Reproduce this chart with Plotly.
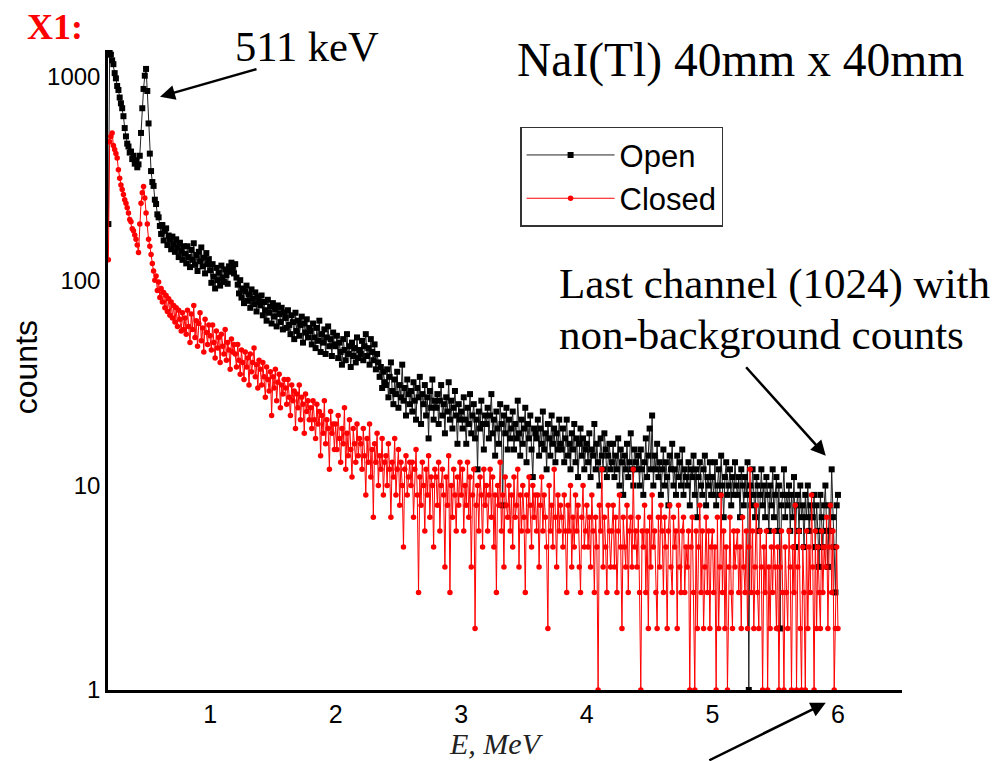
import plotly.graph_objs as go

# energy bins (MeV), 0.01 MeV wide, from 0.19 to 6.00
energy = [round(0.19 + 0.01 * i, 2) for i in range(582)]

open_low = [190,
            1320, 1280, 1200, 1150, 1040, 980, 900, 860, 790, 740,
            700, 640, 560, 510, 470, 455, 425, 430, 395, 410,
            375, 390, 360, 372, 410, 530, 700, 870, 1010, 1090,
            850, 590, 420, 345, 305, 292, 250, 238, 212, 205,
            186, 170, 188, 158, 176, 181, 150, 167, 160, 143,
            165, 151, 139, 160, 146, 131, 154, 140, 127, 148]

open_high = [
    136, 122, 148, 131, 117, 142, 127, 153, 120, 134, 112, 139, 125, 146, 118, 130, 109, 137, 121, 128,
    113, 98, 121, 105, 92, 116, 101, 110, 95, 119, 104, 99, 114, 107, 97, 118, 111, 123, 116, 109,
    121, 104, 96, 87, 101, 83, 92, 78, 89, 95, 80, 86, 74, 91, 82, 77, 88, 71, 84, 79,
    76, 85, 68, 79, 72, 64, 81, 70, 75, 62, 78, 67, 73, 60, 76, 69, 63, 74, 58, 70,
    66, 59, 72, 61, 55, 68, 63, 52, 70, 57, 64, 54, 61, 67, 50, 62, 56, 65, 53, 59,
    57, 49, 62, 53, 47, 59, 51, 64, 45, 55, 50, 58, 44, 53, 60, 48, 52, 43, 56, 49,
    48, 54, 42, 50, 45, 39, 52, 46, 41, 55, 44, 48, 38, 50, 43, 47, 40, 53, 42, 46,
    44, 51, 41, 48, 55, 43, 47, 39, 52, 45, 41, 49, 37, 44, 40, 34, 38, 30, 36, 32,
    31, 37, 27, 34, 40, 29, 25, 33, 28, 36, 24, 31, 27, 39, 26, 30, 22, 33, 28, 25,
    29, 23, 32, 26, 21, 30, 27, 34, 20, 28, 25, 31, 22, 27, 17, 29, 24, 33, 21, 26,
    24, 28, 20, 26, 31, 22, 25, 18, 27, 23, 32, 21, 26, 19, 24, 29, 22, 16, 25, 21,
    23, 19, 27, 21, 16, 24, 20, 28, 18, 22, 25, 17, 21, 12, 23, 19, 26, 20, 15, 22,
    20, 24, 17, 22, 28, 18, 21, 14, 23, 19, 16, 25, 20, 8, 22, 18, 24, 15, 21, 17,
    19, 23, 15, 20, 17, 26, 18, 14, 21, 16, 19, 24, 13, 20, 17, 22, 15, 11, 19, 18,
    17, 21, 14, 19, 16, 23, 15, 18, 12, 20, 17, 14, 22, 16, 19, 13, 18, 15, 21, 16,
    15, 19, 13, 17, 21, 14, 16, 12, 18, 15, 20, 13, 17, 11, 16, 19, 14, 17, 12, 15,
    16, 13, 18, 11, 15, 14, 20, 12, 16, 13, 10, 17, 14, 12, 18, 15, 11, 14, 16, 12,
    13, 16, 11, 14, 12, 17, 10, 15, 13, 9, 14, 12, 16, 11, 13, 18, 12, 10, 15, 13,
    12, 14, 10, 15, 12, 9, 13, 17, 11, 14, 19, 12, 22, 10, 14, 12, 16, 11, 13, 9,
    12, 15, 10, 13, 11, 8, 14, 12, 16, 10, 12, 9, 14, 11, 13, 10, 15, 9, 12, 11,
    10, 13, 8, 12, 11, 14, 9, 12, 7, 11, 13, 10, 9, 12, 14, 8, 11, 10, 13, 9,
    11, 9, 13, 8, 10, 12, 9, 14, 10, 7, 11, 13, 9, 10, 12, 8, 11, 9, 13, 10,
    9, 11, 7, 12, 10, 8, 11, 9, 13, 1, 10, 8, 12, 9, 7, 11, 10, 6, 9, 12,
    8, 10, 7, 11, 9, 6, 10, 8, 12, 7, 9, 11, 6, 10, 2, 8, 9, 12, 7, 9,
    8, 10, 6, 9, 7, 11, 5, 8, 9, 6, 10, 7, 8, 5, 9, 7, 10, 6, 8, 7,
    7, 9, 5, 8, 6, 4, 9, 7, 5, 8, 10, 6, 4, 8, 6, 12, 7, 5, 3, 8,
    9]

closed_low = [127,
              480, 510, 530, 460, 440, 420, 400, 350, 318, 295,
              280, 265, 250, 240, 228, 215, 200, 195, 180, 176,
              168, 160, 150, 138, 190, 240, 270, 290, 255, 215,
              190, 160, 148, 135, 122, 112, 101, 106, 90, 99,
              83, 92, 79, 88, 74, 85, 71, 82, 68, 79,
              66, 76, 63, 74, 60, 72, 65, 57, 70, 58]

closed_high = [
    66, 55, 72, 60, 50, 69, 58, 76, 53, 64, 48, 62, 70, 51, 59, 45, 65, 56, 49, 61,
    54, 46, 61, 50, 42, 57, 47, 53, 40, 55, 48, 44, 58, 41, 50, 46, 37, 52, 45, 49,
    44, 38, 49, 41, 35, 46, 40, 33, 45, 38, 42, 31, 44, 36, 40, 47, 34, 39, 30, 41,
    37, 31, 40, 34, 27, 38, 33, 29, 36, 22, 34, 30, 37, 26, 32, 35, 24, 31, 28, 33,
    30, 25, 33, 27, 22, 31, 26, 29, 19, 28, 24, 31, 21, 27, 25, 18, 28, 23, 26, 21,
    24, 19, 26, 21, 17, 25, 20, 23, 14, 22, 18, 26, 16, 21, 19, 12, 23, 18, 20, 15,
    20, 15, 22, 17, 13, 19, 16, 24, 12, 18, 14, 21, 15, 11, 19, 16, 13, 20, 14, 17,
    16, 12, 19, 14, 9, 17, 13, 20, 11, 15, 7, 16, 13, 18, 10, 14, 12, 17, 9, 13,
    14, 10, 16, 12, 7, 13, 11, 17, 9, 12, 15, 8, 13, 10, 5, 12, 14, 9, 11, 13,
    10, 13, 7, 12, 15, 9, 3, 11, 8, 13, 10, 6, 12, 9, 14, 7, 11, 10, 5, 12,
    11, 8, 13, 6, 10, 12, 9, 4, 11, 8, 14, 3, 10, 7, 12, 9, 6, 11, 8, 13,
    9, 12, 6, 10, 8, 13, 7, 11, 4, 9, 12, 2, 8, 10, 6, 11, 9, 5, 12, 8,
    10, 6, 9, 12, 7, 11, 5, 9, 3, 10, 8, 13, 6, 9, 4, 11, 8, 7, 10, 6,
    9, 5, 11, 7, 8, 12, 4, 9, 6, 10, 7, 3, 9, 6, 11, 8, 5, 10, 7, 9,
    6, 9, 4, 8, 11, 6, 9, 7, 5, 2, 10, 6, 8, 5, 12, 7, 4, 9, 6, 8,
    7, 5, 9, 6, 3, 8, 6, 10, 4, 7, 5, 9, 6, 8, 4, 3, 7, 10, 5, 6,
    8, 5, 7, 4, 9, 6, 3, 7, 5, 1, 8, 6, 12, 4, 7, 5, 3, 8, 6, 4,
    6, 8, 4, 7, 3, 6, 9, 5, 2, 7, 5, 4, 8, 3, 6, 7, 4, 12, 5, 6,
    4, 7, 3, 1, 6, 5, 8, 3, 6, 2, 7, 4, 9, 5, 6, 3, 2, 7, 4, 8,
    6, 3, 7, 5, 2, 6, 8, 4, 3, 7, 5, 6, 2, 8, 4, 3, 6, 7, 3, 5,
    4, 6, 1, 5, 7, 3, 1, 6, 2, 5, 8, 3, 6, 2, 4, 7, 3, 6, 2, 5,
    6, 3, 5, 1, 7, 2, 4, 9, 3, 6, 2, 5, 1, 4, 7, 3, 2, 6, 4, 5,
    6, 3, 5, 2, 7, 4, 3, 6, 2, 5, 12, 3, 6, 2, 4, 8, 3, 2, 6, 4,
    1, 5, 3, 6, 1, 4, 2, 5, 3, 6, 4, 2, 5, 1, 4, 6, 3, 1, 5, 3,
    2, 6, 4, 1, 5, 3, 8, 1, 4, 6, 2, 1, 5, 3, 1, 6, 2, 5, 3, 9,
    4, 1, 6, 2, 5, 3, 2, 6, 3, 5, 4, 7, 2, 5, 8, 3, 6, 1, 2, 5,
    2]

open_counts = open_low + open_high
closed_counts = closed_low + closed_high

y_ticks = [1, 10, 100, 1000]

serif = 'Liberation Serif'
sans = 'Liberation Sans'

trace_open = go.Scatter(x=energy, y=open_counts, mode='lines+markers', name='Open',
                        line={'color': '#222222', 'width': 1},
                        marker={'symbol': 'square', 'size': 6, 'color': 'black'})
trace_closed = go.Scatter(x=energy, y=closed_counts, mode='lines+markers', name='Closed',
                          line={'color': '#ff0000', 'width': 1},
                          marker={'symbol': 'circle', 'size': 5.5, 'color': '#ff0000'})

annotations = [
    dict(text='<b>X1:</b>', x=-0.1045, y=1.036, xref='paper', yref='paper',
         xanchor='left', yanchor='middle', showarrow=False,
         font={'family': serif, 'size': 36, 'color': '#ff0000'}),
    dict(text='511 keV', x=0.2506, y=1.005, xref='paper', yref='paper',
         xanchor='center', yanchor='middle', showarrow=False,
         font={'family': serif, 'size': 42.5, 'color': 'black'}),
    dict(text='NaI(Tl) 40mm x 40mm', x=0.796, y=0.984, xref='paper', yref='paper',
         xanchor='center', yanchor='middle', showarrow=False,
         font={'family': serif, 'size': 47.5, 'color': 'black'}),
    dict(text='Last channel (1024) with', x=0.5655, y=0.634, xref='paper', yref='paper',
         xanchor='left', yanchor='middle', showarrow=False,
         font={'family': serif, 'size': 43, 'color': 'black'}),
    dict(text='non-background counts', x=0.5655, y=0.556, xref='paper', yref='paper',
         xanchor='left', yanchor='middle', showarrow=False,
         font={'family': serif, 'size': 43, 'color': 'black'}),
    dict(text='<i>E, MeV</i>', x=0.4887, y=-0.083, xref='paper', yref='paper',
         xanchor='center', yanchor='middle', showarrow=False,
         font={'family': serif, 'size': 30, 'color': '#222222'}),
    dict(text='counts', x=-0.104, y=0.505, xref='paper', yref='paper', textangle=-90,
         xanchor='center', yanchor='middle', showarrow=False,
         font={'family': sans, 'size': 32, 'color': 'black'}),
    # arrows
    dict(text='', x=0.0655, y=0.927, xref='paper', yref='paper', ax=98, ay=-28,
         showarrow=True, arrowhead=2, arrowsize=1.2, arrowwidth=2.5, arrowcolor='black'),
    dict(text='', x=0.904, y=0.366, xref='paper', yref='paper', ax=-81, ay=-90,
         showarrow=True, arrowhead=2, arrowsize=1.2, arrowwidth=2.5, arrowcolor='black'),
    dict(text='', x=0.904, y=-0.02, xref='paper', yref='paper', ax=-118, ay=62,
         showarrow=True, arrowhead=2, arrowsize=1.2, arrowwidth=2.5, arrowcolor='black'),
]

# page body has an 8px margin, so the figure is 8px smaller on each side
layout = go.Layout(
    width=992, height=753,
    margin={'l': 100, 'r': 98, 't': 42, 'b': 71},
    paper_bgcolor='white', plot_bgcolor='white',
    showlegend=True,
    legend={'x': 0.519, 'y': 0.88, 'xanchor': 'left', 'yanchor': 'top',
            'bordercolor': '#333333', 'borderwidth': 1.5, 'bgcolor': 'white',
            'itemwidth': 88,
            'font': {'family': sans, 'size': 31, 'color': 'black'}},
    xaxis={'range': [0.187, 6.51], 'tickvals': [1, 2, 3, 4, 5, 6],
           'showgrid': False, 'zeroline': False, 'showline': True,
           'linecolor': 'black', 'linewidth': 2.5, 'ticks': '',
           'tickfont': {'family': sans, 'size': 25, 'color': 'black'}},
    yaxis={'type': 'log', 'range': [0, 3.13], 'tickvals': y_ticks,
           'ticktext': [str(v) for v in y_ticks],
           'showgrid': False, 'zeroline': False, 'showline': True,
           'linecolor': 'black', 'linewidth': 2.5, 'ticks': '',
           'tickfont': {'family': sans, 'size': 24, 'color': 'black'}},
    annotations=annotations,
)

fig = go.Figure(data=[trace_open, trace_closed], layout=layout)
fig.write_html("out.html")
